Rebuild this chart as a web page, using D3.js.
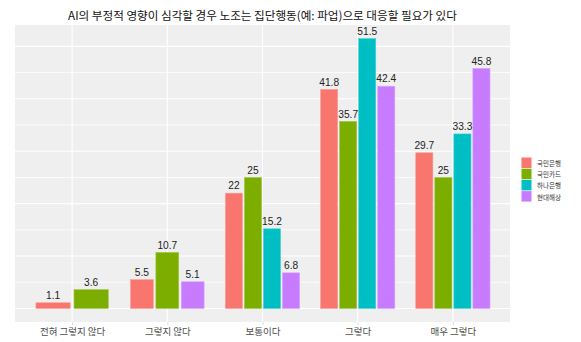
<!DOCTYPE html>
<html>
<head>
<meta charset="utf-8">
<script src="https://cdn.jsdelivr.net/npm/d3@7"></script>
<style>
  html, body { margin: 0; padding: 0; background: #ffffff; }
  svg { display: block; }
  text { font-family: "Liberation Sans", "Noto Sans CJK KR", sans-serif; }
</style>
</head>
<body>
<svg id="chart" width="581" height="342"></svg>
<script>
// Survey responses by company (percent)
const categories = ["전혀 그렇지 않다", "그렇지 않다", "보통이다", "그렇다", "매우 그렇다"];
const seriesNames = ["국민은행", "국민카드", "하나은행", "현대해상"];
const seriesColors = ["#F8766D", "#7CAE00", "#00BFC4", "#C77CFF"];
const kookminBank = [1.1, 5.5, 22, 41.8, 29.7];
const kookminCard = [3.6, 10.7, 25, 35.7, 25];
const hanaBank = [null, null, 15.2, 51.5, 33.3];
const hyundaiMarine = [null, 5.1, 6.8, 42.4, 45.8];
const yGridValues = [0, 5, 10, 15, 20, 25, 30, 35, 40, 45, 50];
const titleText = "AI의 부정적 영향이 심각할 경우 노조는 집단행동(예: 파업)으로 대응할 필요가 있다";

const seriesValues = [kookminBank, kookminCard, hanaBank, hyundaiMarine];

const svg = d3.select("#chart");
const panel = { left: 15, right: 510, top: 25, bottom: 322 };

const x = d3.scalePoint()
  .domain(categories)
  .range([panel.left, panel.right])
  .padding(0.6);

const maxVal = d3.max(seriesValues.flat().filter(v => v != null));
const pad = maxVal * 0.05;
const y = d3.scaleLinear()
  .domain([-pad, maxVal + pad])
  .range([panel.bottom, panel.top]);

// panel background
svg.append("rect")
  .attr("x", panel.left).attr("y", panel.top)
  .attr("width", panel.right - panel.left)
  .attr("height", panel.bottom - panel.top)
  .attr("fill", "#EFEFEF");

// horizontal grid
svg.append("g").selectAll("line")
  .data(yGridValues)
  .join("line")
  .attr("x1", panel.left).attr("x2", panel.right)
  .attr("y1", d => y(d)).attr("y2", d => y(d))
  .attr("stroke", "#ffffff")
  .attr("stroke-width", d => d % 10 === 0 ? 1.1 : 0.8);

// vertical grid at categories
svg.append("g").selectAll("line")
  .data(categories)
  .join("line")
  .attr("x1", d => x(d)).attr("x2", d => x(d))
  .attr("y1", panel.top).attr("y2", panel.bottom)
  .attr("stroke", "#ffffff")
  .attr("stroke-width", 1.1);

// dodged bars: each group splits its width among the bars present
const step = x.step();
const groupWidth = step * 0.8;
const bars = [];
categories.forEach((cat, ci) => {
  const present = seriesNames
    .map((name, si) => ({ name, si, value: seriesValues[si][ci] }))
    .filter(d => d.value != null);
  const slot = groupWidth / present.length;
  present.forEach((d, k) => {
    const x0 = x(cat) - groupWidth / 2 + k * slot;
    bars.push({
      cat, series: d.name, si: d.si, value: d.value,
      x: x0 + slot * 0.05, w: slot * 0.9
    });
  });
});

svg.append("g").selectAll("rect")
  .data(bars)
  .join("rect")
  .attr("x", d => d.x)
  .attr("width", d => d.w)
  .attr("y", d => y(d.value))
  .attr("height", d => y(0) - y(d.value))
  .attr("fill", d => seriesColors[d.si])
  .attr("stroke", d => d3.interpolateRgb(seriesColors[d.si], "#ffffff")(0.3))
  .attr("stroke-width", 0.6);

// value labels
svg.append("g").selectAll("text")
  .data(bars)
  .join("text")
  .attr("x", d => d.x + d.w / 2)
  .attr("y", d => y(d.value) - 3.8)
  .attr("text-anchor", "middle")
  .attr("font-size", "10.2px")
  .attr("fill", "#222222")
  .text(d => d.value);

// x axis
const xAxis = d3.axisBottom(x).tickSize(3).tickPadding(3);
const gx = svg.append("g")
  .attr("transform", `translate(0,${panel.bottom})`)
  .call(xAxis);
gx.select(".domain").remove();
gx.selectAll(".tick line").attr("stroke", "#dddddd");
gx.selectAll(".tick text")
  .attr("font-size", "9.5px")
  .attr("fill", "#4D4D4D")
  .style("font-family", "'Noto Sans CJK KR', sans-serif");

// title
svg.append("text")
  .attr("x", (panel.left + panel.right) / 2)
  .attr("y", 19.5)
  .attr("text-anchor", "middle")
  .attr("font-size", "11.6px")
  .attr("fill", "#111111")
  .style("font-family", "'Noto Sans CJK KR', sans-serif")
  .text(titleText);

// legend
const legend = svg.append("g").attr("transform", "translate(521.5,157.5)");
const items = legend.selectAll("g")
  .data(seriesNames)
  .join("g")
  .attr("transform", (d, i) => `translate(0,${i * 11.2})`);
items.append("rect")
  .attr("width", 10).attr("height", 10.5)
  .attr("fill", (d, i) => seriesColors[i]);
items.append("text")
  .attr("x", 15.5).attr("y", 5.5)
  .attr("dominant-baseline", "central")
  .attr("font-size", "6.5px")
  .attr("fill", "#333333")
  .style("font-family", "'Noto Sans CJK KR', sans-serif")
  .text(d => d);
</script>
</body>
</html>
